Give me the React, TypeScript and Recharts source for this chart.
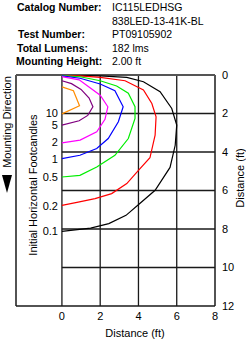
import React from 'react';
import { ScatterChart, Scatter, XAxis, YAxis, ReferenceLine } from 'recharts';

type P = { x: number; y: number };

const orange: P[] = [{x:0,y:0.62},{x:0.6,y:0.82},{x:0.92,y:1.6},{x:0,y:2.02}];
const purple: P[] = [{x:0,y:0.3},{x:0.5,y:0.45},{x:1.0,y:0.75},{x:1.42,y:1.2},{x:1.62,y:1.65},{x:1.35,y:2.1},{x:0.9,y:2.38},{x:0,y:2.6}];
const magenta: P[] = [{x:0,y:0.08},{x:0.9,y:0.25},{x:1.45,y:0.65},{x:2.0,y:1.05},{x:2.4,y:1.65},{x:2.25,y:2.3},{x:1.82,y:2.95},{x:0.95,y:3.38},{x:0,y:3.53}];
const blue: P[] = [{x:0,y:0.05},{x:0.95,y:0.17},{x:2.0,y:0.47},{x:2.77,y:0.82},{x:3.2,y:1.65},{x:2.95,y:2.43},{x:2.42,y:3.3},{x:1.82,y:3.82},{x:0.94,y:4.17},{x:0,y:4.34}];
const green: P[] = [{x:0,y:0.03},{x:0.95,y:0.09},{x:2.0,y:0.3},{x:2.86,y:0.57},{x:3.47,y:0.95},{x:3.82,y:1.65},{x:3.82,y:2.26},{x:3.47,y:3.3},{x:2.77,y:4.17},{x:1.82,y:4.78},{x:0.94,y:5.21},{x:0,y:5.3}];
const red: P[] = [{x:0,y:0.02},{x:0.95,y:0.05},{x:2.0,y:0.12},{x:3.3,y:0.3},{x:4.26,y:0.78},{x:4.7,y:1.48},{x:4.92,y:2.17},{x:4.87,y:3.13},{x:4.6,y:4.3},{x:4.0,y:4.95},{x:3.39,y:5.64},{x:2.6,y:6.16},{x:1.73,y:6.42},{x:0.85,y:6.6},{x:0,y:6.77}];
const black: P[] = [{x:0,y:0.01},{x:2.0,y:0.05},{x:3.39,y:0.12},{x:4.26,y:0.35},{x:5.13,y:0.87},{x:5.74,y:1.74},{x:6.0,y:2.6},{x:5.92,y:3.65},{x:5.65,y:4.8},{x:4.87,y:5.99},{x:4.1,y:6.65},{x:3.35,y:7.29},{x:2.45,y:7.72},{x:1.5,y:7.95},{x:0,y:8.12}];

const footcandleLabels = [
  { x: 0, y: 1.98, label: '10' },
  { x: 0, y: 2.6, label: '5' },
  { x: 0, y: 3.5, label: '2' },
  { x: 0, y: 4.36, label: '1' },
  { x: 0, y: 5.3, label: '0.5' },
  { x: 0, y: 6.8, label: '0.2' },
  { x: 0, y: 8.1, label: '0.1' },
];

const xTicks = [0, 2, 4, 6, 8];
const yTicks = [0, 2, 4, 6, 8, 10, 12];
const vGrid = [0, 2, 4, 6];
const hGrid = [2, 4, 6, 8, 10];

const headerLabels = ['Catalog Number:', 'Test Number:', 'Total Lumens:', 'Mounting Height:'];
const headerValues = ['IC115LEDHSG', '838LED-13-41K-BL', 'PT09105902', '182 lms', '2.00 ft'];

const FONT = '"Liberation Sans", Arial, Helvetica, sans-serif';

const curves = [
  { data: black, color: '#000000' },
  { data: red, color: '#ff0000' },
  { data: green, color: '#00ee00' },
  { data: blue, color: '#0000ff' },
  { data: magenta, color: '#ff00ff' },
  { data: purple, color: '#800080' },
  { data: orange, color: '#ff8c00' },
];

const X_MIN = -2.4;
const GRID = '#1a1a1a';

export default function App() {
  return (
    <div style={{ position: 'absolute', left: 0, top: 0, width: 246, height: 348, background: '#fff', fontFamily: FONT }}>
      <ScatterChart width={246} height={348} margin={{ top: 75, left: 16, right: 0, bottom: 12 }}>
        <XAxis
          type="number"
          dataKey="x"
          domain={[X_MIN, 8]}
          ticks={xTicks}
          allowDataOverflow
          height={30}
          tickLine={false}
          axisLine={false}
          tickSize={4}
          tick={{ fontSize: 11, fill: '#000', fontFamily: FONT }}
          interval={0}
        />
        <YAxis
          type="number"
          dataKey="y"
          domain={[0, 12]}
          ticks={yTicks}
          reversed
          orientation="right"
          width={31}
          allowDataOverflow
          tickLine={false}
          axisLine={false}
          tickSize={5}
          tick={{ fontSize: 11, fill: '#000', fontFamily: FONT }}
          interval={0}
        />
        {vGrid.map((v) => (
          <ReferenceLine key={'v' + v} x={v} stroke={GRID} strokeWidth={1.3} />
        ))}
        {hGrid.map((h) => (
          <ReferenceLine key={'h' + h} segment={[{ x: 0, y: h }, { x: 8, y: h }]} stroke={GRID} strokeWidth={1.3} />
        ))}
        <ReferenceLine segment={[{ x: X_MIN, y: 12 }, { x: 8, y: 12 }]} stroke={GRID} strokeWidth={1.5} />
        <ReferenceLine segment={[{ x: X_MIN, y: 0 }, { x: X_MIN, y: 12 }]} stroke={GRID} strokeWidth={1.5} />
        <ReferenceLine segment={[{ x: 8, y: 0 }, { x: 8, y: 12 }]} stroke={GRID} strokeWidth={1.5} />
        {curves.map((c, i) => (
          <Scatter
            key={i}
            data={c.data}
            line={{ stroke: c.color, strokeWidth: 1.2 }}
            lineType="joint"
            shape={() => <g />}
            isAnimationActive={false}
          />
        ))}
        <ReferenceLine segment={[{ x: X_MIN, y: 0 }, { x: 8, y: 0 }]} stroke="#555" strokeWidth={2.2} />
        <Scatter
          data={footcandleLabels}
          isAnimationActive={false}
          shape={(props: any) => (
            <text
              x={props.cx - 4}
              y={props.cy}
              textAnchor="end"
              dominantBaseline="central"
              fontSize={11}
              fontFamily={FONT}
              fill="#000"
            >
              {props.payload.label}
            </text>
          )}
        />
      </ScatterChart>
      <svg width={246} height={348} style={{ position: 'absolute', left: 0, top: 0, pointerEvents: 'none' }}>
        <g fontFamily={FONT} fontSize={10.5} fill="#000">
          <text x={17} y={11} fontWeight="bold">{headerLabels[0]}</text>
          <text x={18} y={38} fontWeight="bold">{headerLabels[1]}</text>
          <text x={17} y={52} fontWeight="bold">{headerLabels[2]}</text>
          <text x={16} y={65} fontWeight="bold">{headerLabels[3]}</text>
          <text x={112} y={11}>{headerValues[0]}</text>
          <text x={112} y={25}>{headerValues[1]}</text>
          <text x={112} y={38}>{headerValues[2]}</text>
          <text x={112} y={52}>{headerValues[3]}</text>
          <text x={112} y={65}>{headerValues[4]}</text>
        </g>
        <text x={135} y={337} textAnchor="middle" fontFamily={FONT} fontSize={11} fill="#000">Distance (ft)</text>
        <text transform="translate(244,178) rotate(-90)" textAnchor="middle" fontFamily={FONT} fontSize={11} fill="#000">Distance (ft)</text>
        <text transform="translate(37,185) rotate(-90)" textAnchor="middle" fontFamily={FONT} fontSize={11} fill="#000">Initial Horizontal Footcandles</text>
        <text transform="translate(11,122) rotate(-90)" textAnchor="middle" fontFamily={FONT} fontSize={11} fill="#000">Mounting Direction</text>
        <polygon points="2,175 12,175 7,193" fill="#000" />
      </svg>
    </div>
  );
}
